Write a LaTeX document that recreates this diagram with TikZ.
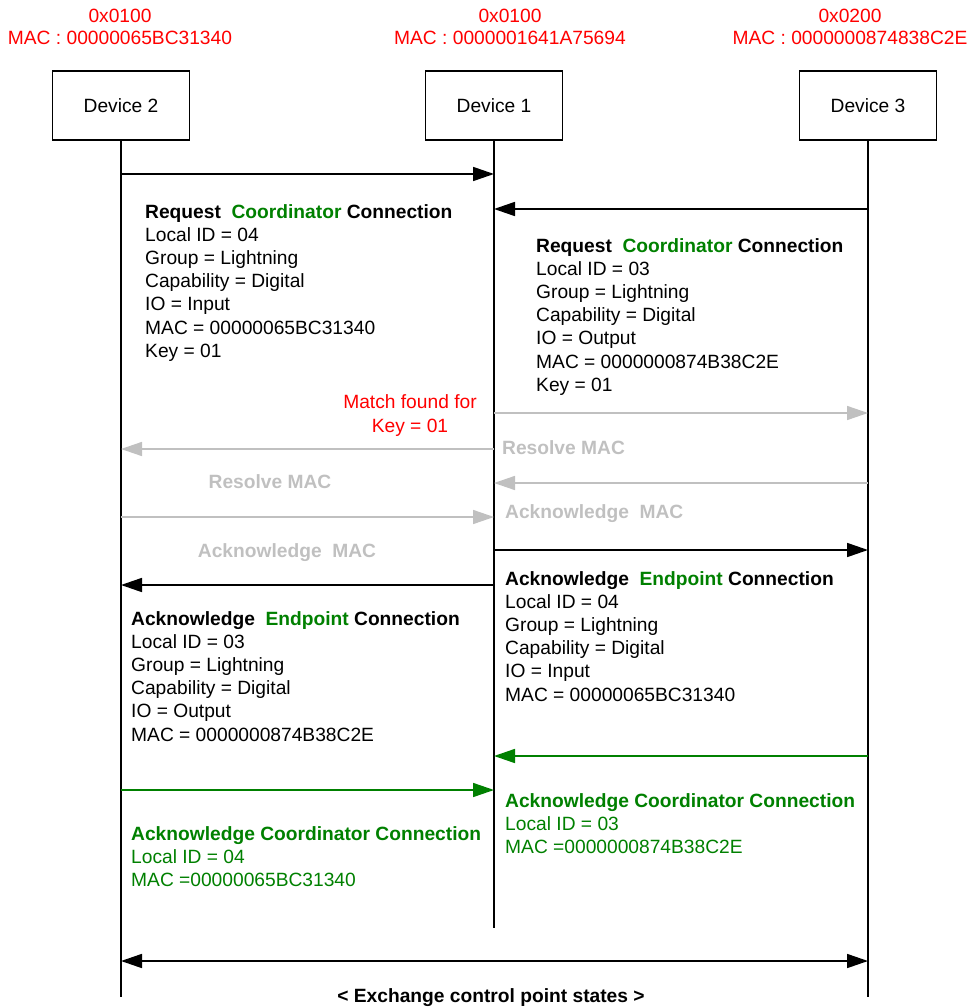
\documentclass[tikz,border=0pt]{standalone}
\usepackage{fontspec}
\setmainfont{Liberation Sans}
\usetikzlibrary{arrows.meta}
\definecolor{hdrred}{RGB}{255,0,0}
\definecolor{okgreen}{RGB}{0,128,0}
\definecolor{faint}{RGB}{192,192,192}
\begin{document}
\begin{tikzpicture}[x=1pt,y=-1pt,
  every node/.style={font=\fontsize{19.2}{23.2}\selectfont, inner sep=0pt},
  % multi-line nodes are placed by the baseline of their last line
  txt/.style={anchor=base west, align=left},
  hdr/.style={anchor=base, align=center, text=hdrred, font=\fontsize{19.2}{22}\selectfont},
  devbox/.style={draw, line width=1.6pt, minimum width=137pt, minimum height=69pt},
  life/.style={line width=2.7pt},
  tip/.style={-{Triangle[length=21pt,width=14pt]}},
  msg/.style={tip, line width=1.7pt},
  faintmsg/.style={tip, line width=1.5pt, draw=faint, fill=faint},
  greenmsg/.style={tip, line width=1.6pt, draw=okgreen, fill=okgreen},
  faintlbl/.style={text=faint, font=\fontsize{19.2}{23.2}\selectfont\bfseries},
]
\useasboundingbox (0,0) rectangle (972,1008);

% device addresses
\node[hdr] (h2) at (120,45) {0x0100\\MAC : 00000065BC31340};
\node[hdr] (h1) at (510,45) {0x0100\\MAC : 0000001641A75694};
\node[hdr] (h3) at (850,45) {0x0200\\MAC : 0000000874838C2E};

% devices
\node[devbox] (d2) at (121,105.5) {Device 2};
\node[devbox] (d1) at (494,105.5) {Device 1};
\node[devbox] (d3) at (868,105.5) {Device 3};

% lifelines
\coordinate (e2) at (121,997);
\coordinate (e1) at (494,928);
\coordinate (e3) at (868,997);
\draw[life] (d2.south) -- (e2);
\draw[life] (d1.south) -- (e1);
\draw[life] (d3.south) -- (e3);

% message end points on the lifelines
\coordinate (p2a) at (121,174);  \coordinate (p1a) at (494,174);
\coordinate (p3b) at (868,209);  \coordinate (p1b) at (494,209);
\coordinate (p1c) at (494,413);  \coordinate (p3c) at (868,413);
\coordinate (p1d) at (494,449);  \coordinate (p2d) at (121,449);
\coordinate (p3e) at (868,483);  \coordinate (p1e) at (494,483);
\coordinate (p2f) at (121,517);  \coordinate (p1f) at (494,517);
\coordinate (p1g) at (494,550);  \coordinate (p3g) at (868,550);
\coordinate (p1h) at (494,585);  \coordinate (p2h) at (121,585);
\coordinate (p3i) at (868,756);  \coordinate (p1i) at (494,756);
\coordinate (p2j) at (121,790);  \coordinate (p1j) at (494,790);
\coordinate (p2k) at (121,961);  \coordinate (p3k) at (868,961);

% messages
\draw[msg] (p2a) -- (p1a);
\draw[msg] (p3b) -- (p1b);
\draw[faintmsg] (p1c) -- (p3c);
\draw[faintmsg] (p1d) -- (p2d);
\draw[faintmsg] (p3e) -- (p1e);
\draw[faintmsg] (p2f) -- (p1f);
\draw[msg] (p1g) -- (p3g);
\draw[msg] (p1h) -- (p2h);
\draw[greenmsg] (p3i) -- (p1i);
\draw[greenmsg] (p2j) -- (p1j);
\draw[line width=1.7pt, {Triangle[length=21pt,width=14pt]}-{Triangle[length=21pt,width=14pt]}] (p2k) -- (p3k);

% message contents
\node[txt] (req2) at (145,357.2) {\textbf{Request~~\textcolor{okgreen}{Coordinator} Connection}\\Local ID = 04\\Group = Lightning\\Capability = Digital\\IO = Input\\MAC = 00000065BC31340\\Key = 01};
\node[txt] (req3) at (536,391.2) {\textbf{Request~~\textcolor{okgreen}{Coordinator} Connection}\\Local ID = 03\\Group = Lightning\\Capability = Digital\\IO = Output\\MAC = 0000000874B38C2E\\Key = 01};

\node[anchor=base, align=center, text=hdrred, font=\fontsize{19.2}{24}\selectfont] (match) at (410,432) {Match found for\\Key = 01};

\node[faintlbl, anchor=base west] (res1) at (502,454) {Resolve MAC};
\node[faintlbl, anchor=base] (res2) at (270,488) {Resolve MAC};
\node[faintlbl, anchor=base west] (ack1) at (505,518) {Acknowledge~~MAC};
\node[faintlbl, anchor=base] (ack2) at (287,557) {Acknowledge~~MAC};

\node[txt] (ep3) at (505,701) {\textbf{Acknowledge~~\textcolor{okgreen}{Endpoint} Connection}\\Local ID = 04\\Group = Lightning\\Capability = Digital\\IO = Input\\MAC = 00000065BC31340};
\node[txt] (ep2) at (131,741) {\textbf{Acknowledge~~\textcolor{okgreen}{Endpoint} Connection}\\Local ID = 03\\Group = Lightning\\Capability = Digital\\IO = Output\\MAC = 0000000874B38C2E};

\node[txt, text=okgreen] (co3) at (505,853.4) {\textbf{Acknowledge Coordinator Connection}\\Local ID = 03\\MAC =0000000874B38C2E};
\node[txt, text=okgreen] (co2) at (131,886.4) {\textbf{Acknowledge Coordinator Connection}\\Local ID = 04\\MAC =00000065BC31340};

\node[anchor=base, font=\fontsize{19.2}{23.2}\selectfont\bfseries] (xch) at (491,1002) {< Exchange control point states >};
\end{tikzpicture}
\end{document}
